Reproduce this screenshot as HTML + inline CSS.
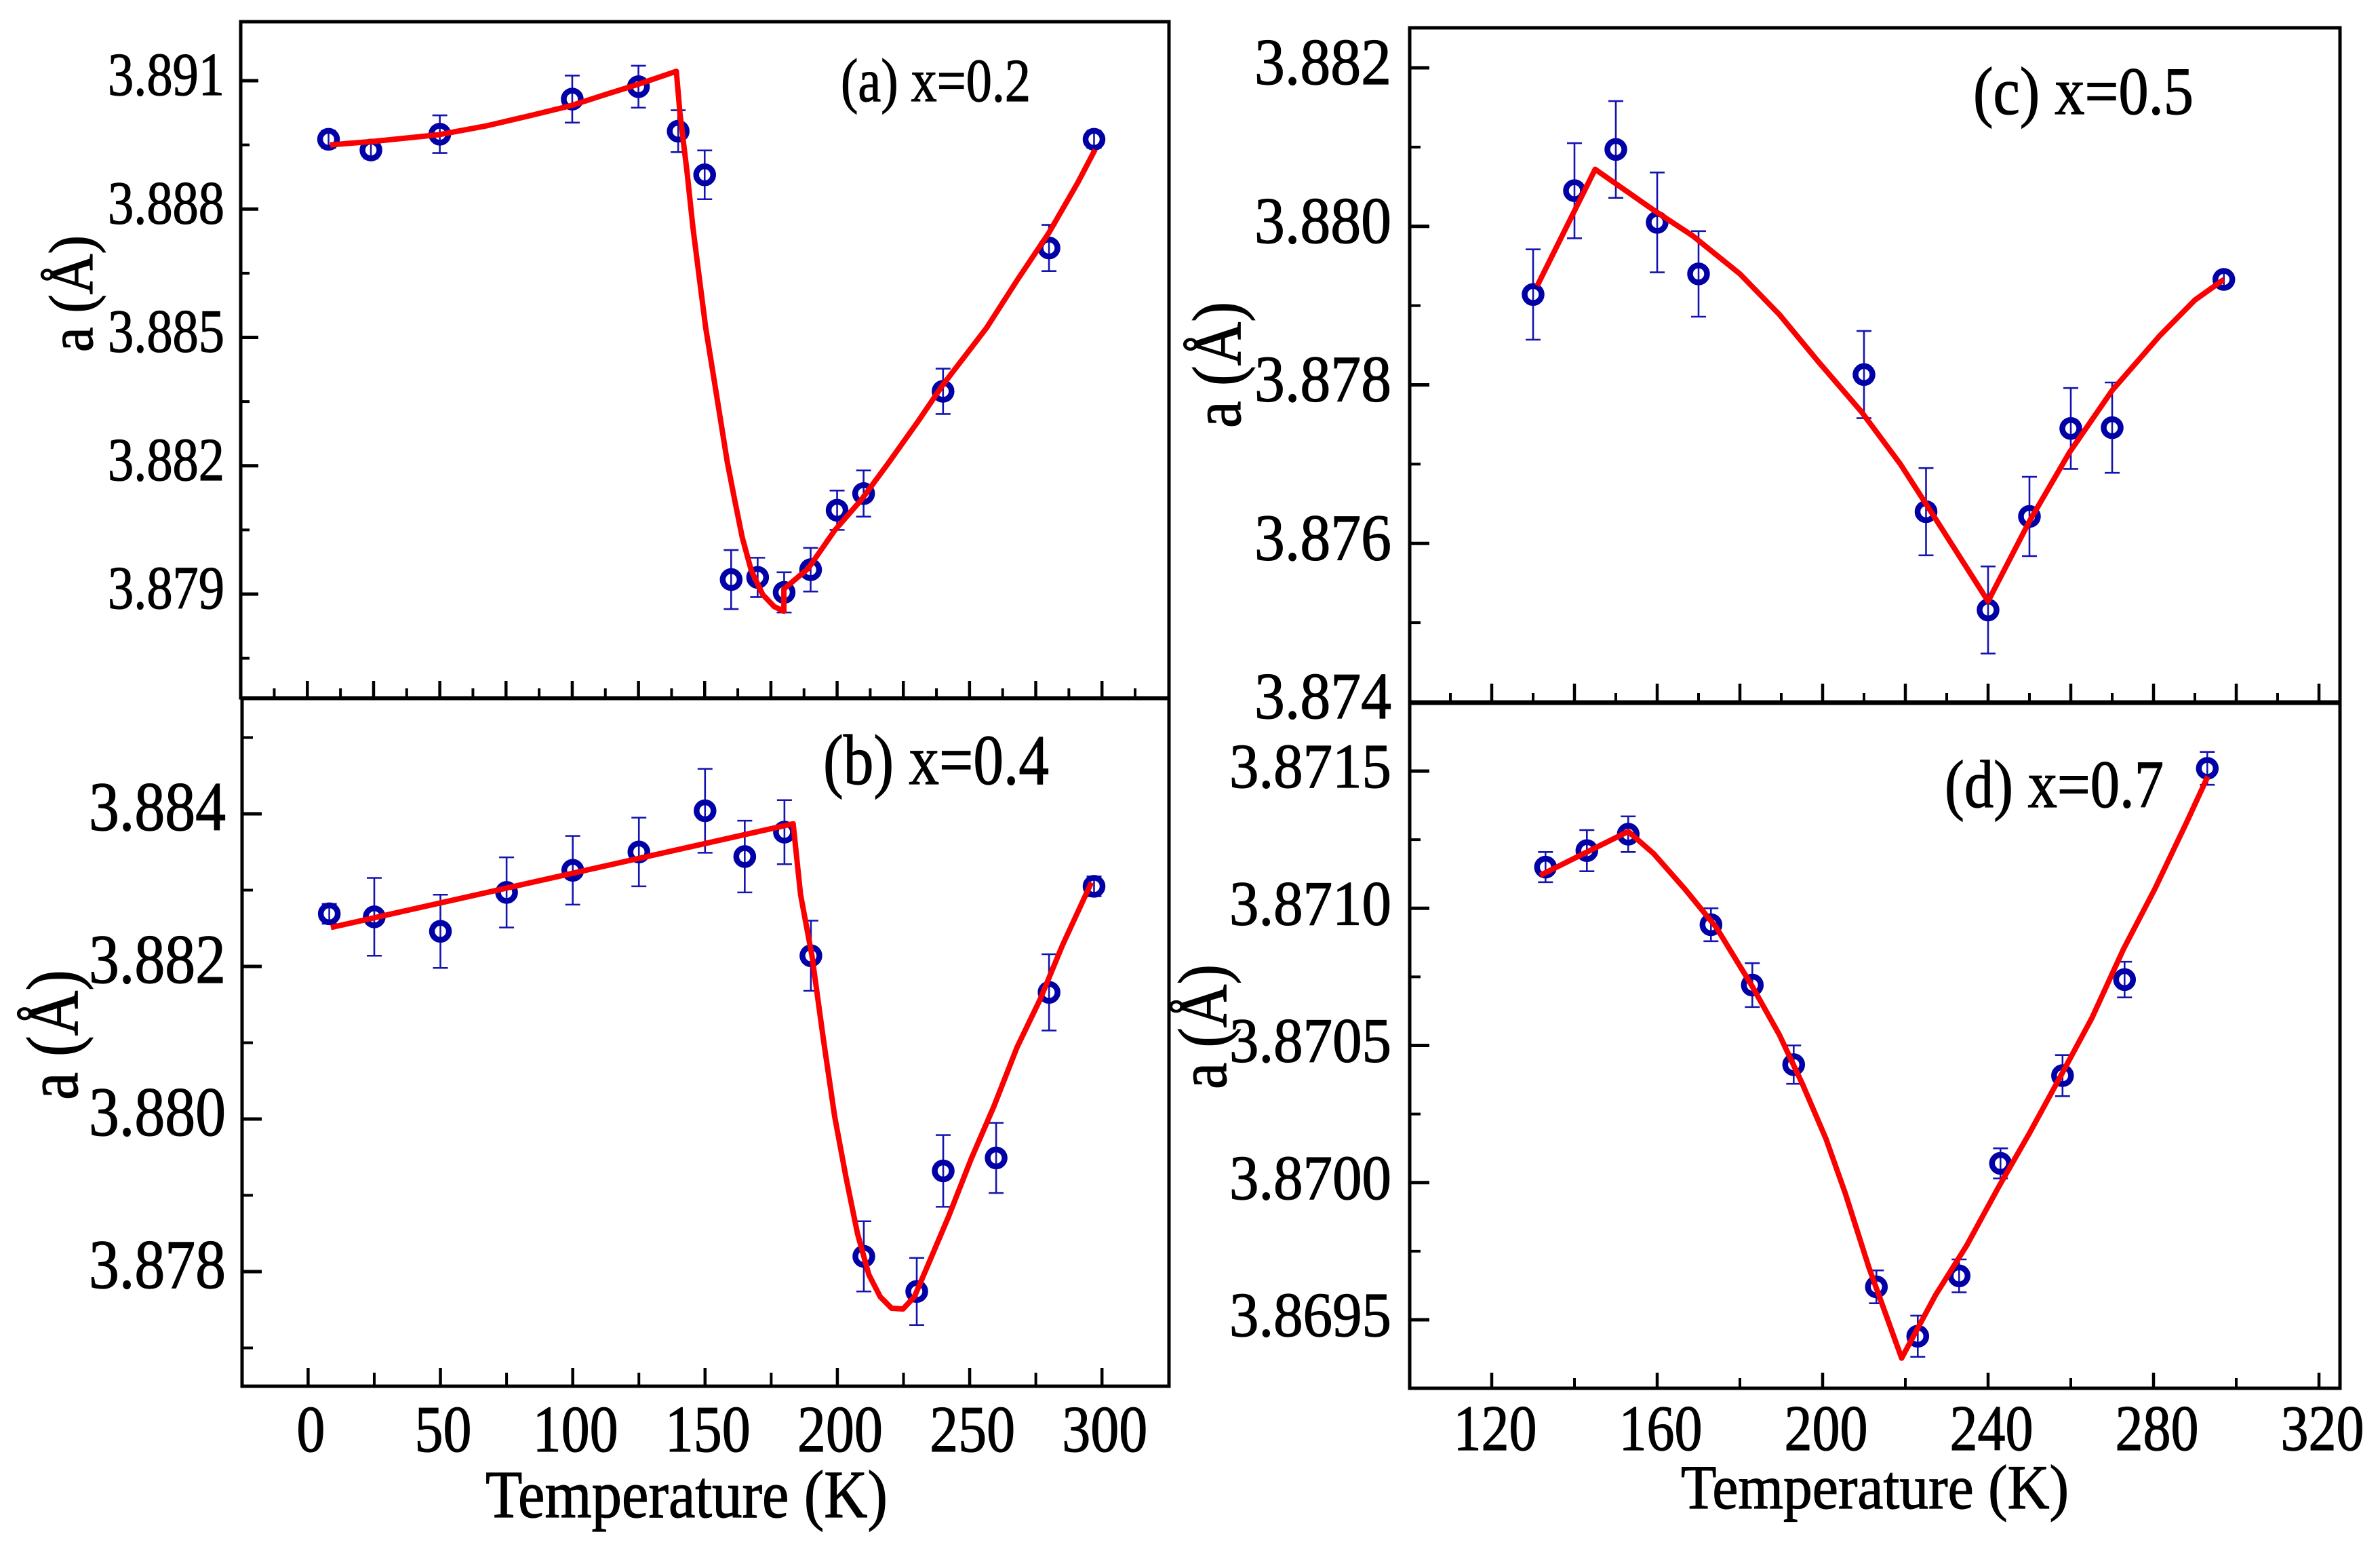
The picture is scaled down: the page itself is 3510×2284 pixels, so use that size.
<!DOCTYPE html>
<html lang="en">
<head>
<meta charset="utf-8">
<title>Lattice parameter a versus temperature</title>
<style>
html,body{margin:0;padding:0;background:#fff;}
svg{display:block;}
text{font-family:"Liberation Serif","Times New Roman",serif;fill:#000;stroke:#000;stroke-width:1.2px;}
</style>
</head>
<body>
<svg id="chart" xmlns="http://www.w3.org/2000/svg" width="3510" height="2284" viewBox="0 0 3510 2284">
  <rect x="0" y="0" width="3510" height="2284" fill="#fff"/>
  <g id="panels"></g>

  <text x="1240" y="149" font-size="90" textLength="280" lengthAdjust="spacingAndGlyphs">(a) x=0.2</text>
  <text x="1214" y="1156" font-size="105" textLength="333" lengthAdjust="spacingAndGlyphs">(b) x=0.4</text>
  <text x="2910" y="168" font-size="100" textLength="325" lengthAdjust="spacingAndGlyphs">(c) x=0.5</text>
  <text x="2868" y="1190" font-size="100" textLength="323" lengthAdjust="spacingAndGlyphs">(d) x=0.7</text>

  <text transform="translate(136 519) rotate(-90)" font-size="92" textLength="172" lengthAdjust="spacingAndGlyphs">a (Å)</text>
  <text transform="translate(114 1622) rotate(-90)" font-size="108" textLength="192" lengthAdjust="spacingAndGlyphs">a (Å)</text>
  <text transform="translate(1829 631) rotate(-90)" font-size="102" textLength="186" lengthAdjust="spacingAndGlyphs">a (Å)</text>
  <text transform="translate(1808 1606) rotate(-90)" font-size="102" textLength="184" lengthAdjust="spacingAndGlyphs">a (Å)</text>

  <text x="716" y="2237" font-size="100" textLength="593" lengthAdjust="spacingAndGlyphs">Temperature (K)</text>
  <text x="2479" y="2224" font-size="92" textLength="572" lengthAdjust="spacingAndGlyphs">Temperature (K)</text>
</svg>
<script>
/* ---------- Panel (a) x=0.2 ---------- */
const aTemps = [8,24,50,100,125,140,150,160,170,180,190,200,210,240,280,297];
const aValues = [3.88963,3.88938,3.88975,3.89057,3.89086,3.88982,3.8888,3.87934,3.87939,3.87904,3.87957,3.88096,3.88135,3.88374,3.88709,3.88963];
const aErrors = [0.0002,0.0002,0.00044,0.00055,0.00049,0.00049,0.00057,0.00069,0.00046,0.00047,0.00051,0.00046,0.00054,0.00053,0.00054,0.0002];
const aFitTemps = [8.6,24.6,49.9,67.3,84.5,99.7,113.2,124.6,139.3,140.7,143.3,145.6,148.1,150.4,153.3,156.2,158.5,161.3,164.2,167.6,171.9,176.2,179.9,179.9,189.1,199.1,209.2,219.2,230.7,239.8,256.4,267.9,279.9,290.8,297.4];
const aFitValues = [3.8895,3.88958,3.88974,3.88994,3.89019,3.89042,3.89069,3.89091,3.89122,3.89022,3.88889,3.88755,3.88633,3.88522,3.88411,3.88299,3.8821,3.88121,3.88032,3.87955,3.87899,3.87871,3.8786,3.87912,3.8796,3.88049,3.88121,3.88205,3.88305,3.88388,3.88522,3.88633,3.88744,3.88861,3.88939];
const aYMajor = [3.891,3.888,3.885,3.882,3.879];
const aYLabels = ['3.891','3.888','3.885','3.882','3.879'];
const aYMinor = [3.8895,3.8865,3.8835,3.8805,3.8775];
const aXMajor = [0,25,50,75,100,125,150,175,200,225,250,275,300];
const aXMinor = [-12.5,12.5,37.5,62.5,87.5,112.5,137.5,162.5,187.5,212.5,237.5,262.5,287.5,312.5];

/* ---------- Panel (b) x=0.4 ---------- */
const bTemps = [8,25,50,75,100,125,150,165,180,190,210,230,240,260,280,297];
const bValues = [3.88269,3.88265,3.88246,3.88297,3.88326,3.8835,3.88404,3.88344,3.88376,3.88214,3.8782,3.87774,3.87932,3.87949,3.88166,3.88305];
const bErrors = [0.00013,0.00051,0.00048,0.00046,0.00045,0.00045,0.00055,0.00047,0.00042,0.00046,0.00046,0.00044,0.00047,0.00046,0.0005,0.00013];
const bFitTemps = [8.6,183.3,186.1,190.4,194.7,199,203.3,207.6,211.9,216.2,220.5,224.8,229.1,234.9,242,250.6,259.2,267.9,276.5,285.1,296];
const bFitValues = [3.88251,3.88387,3.88294,3.88214,3.88105,3.88003,3.87923,3.8785,3.87796,3.87767,3.87752,3.87751,3.87767,3.87814,3.87872,3.87948,3.88017,3.88094,3.88156,3.88228,3.8831];
const bYMajor = [3.884,3.882,3.88,3.878];
const bYLabels = ['3.884','3.882','3.880','3.878'];
const bYMinor = [3.885,3.883,3.881,3.879,3.877];
const bXMajor = [0,50,100,150,200,250,300];
const bXLabels = ['0','50','100','150','200','250','300'];
const bXMinor = [25,75,125,175,225,275];

/* ---------- Panel (c) x=0.5 ---------- */
const cTemps = [130,140,150,160,170,210,225,240,250,260,270,297];
const cValues = [3.87914,3.88045,3.88097,3.88005,3.8794,3.87813,3.8764,3.87516,3.87634,3.87745,3.87746,3.87933];
const cErrors = [0.00057,0.0006,0.00061,0.00063,0.00054,0.00055,0.00055,0.00055,0.0005,0.00051,0.00057,0.0001];
const cFitTemps = [131,145,159,168.6,180,189.5,199,209.4,218.8,227.3,240,250,259.7,270,281.5,290,297];
const cFitValues = [3.87925,3.88072,3.88021,3.87988,3.8794,3.87889,3.87829,3.87766,3.877,3.87631,3.87527,3.87628,3.87715,3.87793,3.87862,3.87907,3.87933];
const cYMajor = [3.882,3.88,3.878,3.876,3.874];
const cYLabels = ['3.882','3.880','3.878','3.876','3.874'];
const cYMinor = [3.881,3.879,3.877,3.875];
const cXMajor = [120,140,160,180,200,220,240,260,280,300,320];
const cXMinor = [110,130,150,170,190,210,230,250,270,290,310];

/* ---------- Panel (d) x=0.7 ---------- */
const dTemps = [133,143,153,173,183,193,213,223,233,243,258,273,293];
const dValues = [3.87115,3.87121,3.87127,3.87094,3.87072,3.87043,3.86962,3.86944,3.86966,3.87007,3.87039,3.87074,3.87151];
const dErrors = [0.000055,0.000075,0.000065,0.00006,0.00008,0.00007,0.00006,0.000075,0.00006,0.000055,0.000075,0.000065,0.00006];
const dFitTemps = [131.7,153,159.1,166.7,174.3,182.8,189.5,195.1,200.8,205.5,211.2,219.1,227.3,234.8,242.4,250,257.6,265.1,272.7,280.3,287.9,293.1];
const dFitValues = [3.87112,3.87128,3.8712,3.87107,3.87093,3.87072,3.87054,3.87036,3.87016,3.86996,3.86969,3.86936,3.86959,3.86977,3.86998,3.87018,3.87039,3.8706,3.87085,3.87107,3.87131,3.87148];
const dYMajor = [3.8715,3.871,3.8705,3.87,3.8695];
const dYLabels = ['3.8715','3.8710','3.8705','3.8700','3.8695'];
const dYMinor = [3.87125,3.87075,3.87025,3.86975];
const dXMajor = [120,160,200,240,280,320];
const dXLabels = ['120','160','200','240','280','320'];
const dXMinor = [140,180,220,260,300];

const NS = 'http://www.w3.org/2000/svg';
const root = document.getElementById('panels');
const BLUE = '#0000a6';
const RED = '#fa0000';

function scale(d0, d1, r0, r1) {
  return function (v) { return r0 + (v - d0) * (r1 - r0) / (d1 - d0); };
}
function make(tag, attrs, parent) {
  const el = document.createElementNS(NS, tag);
  for (const k in attrs) el.setAttribute(k, attrs[k]);
  parent.appendChild(el);
  return el;
}

function drawPanel(p) {
  const g = make('g', {}, root);
  
  
  const x = scale(p.xd[0], p.xd[1], p.xr[0], p.xr[1]);
  const y = scale(p.yd[0], p.yd[1], p.yr[0], p.yr[1]);

  const frame = make('rect', {x: p.box[0], y: p.box[1], width: p.box[2] - p.box[0], height: p.box[3] - p.box[1], fill: 'none', stroke: '#000', 'stroke-width': 5}, g);
  
  

  p.yMajor.forEach(function (v, i) {
    const t = make('line', {x1: p.box[0], x2: p.box[0] + p.yLen[0], y1: y(v), y2: y(v), stroke: '#000', 'stroke-width': 5}, g);
    
    
    const lab = make('text', {x: p.yLabelRight - p.yLabelWidth, y: y(v) + p.yLabelDy, 'font-size': p.yFont, textLength: p.yLabelWidth, lengthAdjust: 'spacingAndGlyphs'}, g);
    lab.textContent = p.yLabels[i];
    
    
  });
  p.yMinor.forEach(function (v) {
    const t = make('line', {x1: p.box[0], x2: p.box[0] + p.yLen[1], y1: y(v), y2: y(v), stroke: '#000', 'stroke-width': 4}, g);
    
    
  });
  p.xMajor.forEach(function (v, i) {
    const t = make('line', {x1: x(v), x2: x(v), y1: p.box[3], y2: p.box[3] - p.xLen[0], stroke: '#000', 'stroke-width': 4.5}, g);
    
    
    if (p.xLabels) {
      const w = p.xLabels[i].length * p.xDigit;
      const lab = make('text', {x: x(v) + p.xLabelDx - w / 2, y: p.xBase, 'font-size': p.xFont, textLength: w, lengthAdjust: 'spacingAndGlyphs'}, g);
      lab.textContent = p.xLabels[i];
      
      
    }
  });
  p.xMinor.forEach(function (v) {
    const t = make('line', {x1: x(v), x2: x(v), y1: p.box[3], y2: p.box[3] - p.xLen[1], stroke: '#000', 'stroke-width': 4}, g);
    
    
  });

  p.temps.forEach(function (T, i) {
    const cx = x(T), top = y(p.values[i] + p.errors[i]), bot = y(p.values[i] - p.errors[i]);
    const bar = make('path', {d: 'M' + cx + ' ' + top + 'V' + bot + 'M' + (cx - 11) + ' ' + top + 'H' + (cx + 11) + 'M' + (cx - 11) + ' ' + bot + 'H' + (cx + 11), fill: 'none', stroke: '#1414b0', 'stroke-width': 2.6}, g);
    
    
  });
  p.temps.forEach(function (T, i) {
    const c = make('circle', {cx: x(T), cy: y(p.values[i]), r: 12.5, fill: 'none', stroke: BLUE, 'stroke-width': 8.5}, g);
    
    
  });

  const pts = p.fitT.map(function (T, i) { return x(T) + ',' + y(p.fitV[i]); }).join(' ');
  const fit = make('polyline', {points: pts, fill: 'none', stroke: RED, 'stroke-width': 8, 'stroke-linejoin': 'round'}, g);
  
  
}

drawPanel({id: 'a', box: [355, 32, 1724, 1029],
  xd: [0, 300], xr: [453.3, 1625.2], yd: [3.891, 3.879], yr: [119, 876],
  temps: aTemps, values: aValues, errors: aErrors, fitT: aFitTemps, fitV: aFitValues,
  yMajor: aYMajor, yLabels: aYLabels, yMinor: aYMinor, xMajor: aXMajor, xMinor: aXMinor,
  yLen: [26, 13], xLen: [25, 14], yLabelRight: 331, yLabelWidth: 172, yLabelDy: 21, yFont: 90});

drawPanel({id: 'b', box: [357, 1030, 1724, 2044],
  xd: [0, 300], xr: [454.4, 1625.2], yd: [3.884, 3.878], yr: [1200, 1875],
  temps: bTemps, values: bValues, errors: bErrors, fitT: bFitTemps, fitV: bFitValues,
  yMajor: bYMajor, yLabels: bYLabels, yMinor: bYMinor, xMajor: bXMajor, xLabels: bXLabels, xMinor: bXMinor,
  yLen: [29, 16], xLen: [27, 20], yLabelRight: 333, yLabelWidth: 202, yLabelDy: 24, yFont: 103,
  xBase: 2140, xFont: 97, xDigit: 42, xLabelDx: 4});

drawPanel({id: 'c', box: [2079, 41, 3451, 1035],
  xd: [120, 320], xr: [2200, 3420], yd: [3.882, 3.874], yr: [100, 1035],
  temps: cTemps, values: cValues, errors: cErrors, fitT: cFitTemps, fitV: cFitValues,
  yMajor: cYMajor, yLabels: cYLabels, yMinor: cYMinor, xMajor: cXMajor, xMinor: cXMinor,
  yLen: [29, 16], xLen: [27, 13], yLabelRight: 2052, yLabelWidth: 202, yLabelDy: 24, yFont: 98});

drawPanel({id: 'd', box: [2079, 1037, 3451, 2047],
  xd: [120, 320], xr: [2200, 3420], yd: [3.8715, 3.8695], yr: [1137, 1946],
  temps: dTemps, values: dValues, errors: dErrors, fitT: dFitTemps, fitV: dFitValues,
  yMajor: dYMajor, yLabels: dYLabels, yMinor: dYMinor, xMajor: dXMajor, xLabels: dXLabels, xMinor: dXMinor,
  yLen: [29, 16], xLen: [23, 15], yLabelRight: 2052, yLabelWidth: 239, yLabelDy: 24, yFont: 93,
  xBase: 2138, xFont: 95, xDigit: 41, xLabelDx: 5});
</script>
</body>
</html>
